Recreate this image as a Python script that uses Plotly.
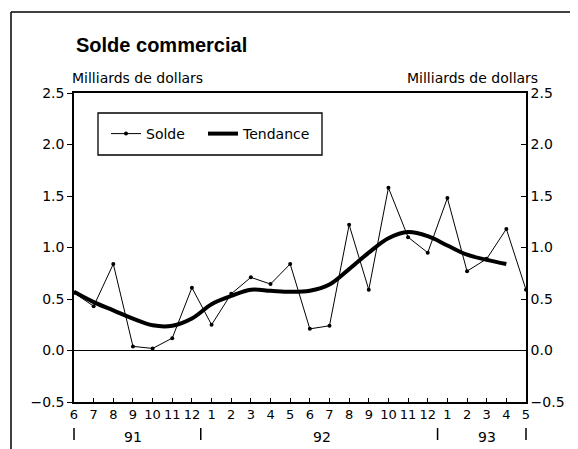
import plotly.graph_objects as go

months = ["6", "7", "8", "9", "10", "11", "12", "1", "2", "3", "4", "5",
          "6", "7", "8", "9", "10", "11", "12", "1", "2", "3", "4", "5"]
solde = [0.56, 0.43, 0.84, 0.04, 0.02, 0.12, 0.61, 0.25, 0.55, 0.71, 0.645, 0.84,
         0.21, 0.24, 1.22, 0.59, 1.58, 1.10, 0.95, 1.48, 0.77, 0.89, 1.18, 0.59]
tendance = [0.57, 0.47, 0.39, 0.31, 0.245, 0.24, 0.31, 0.45, 0.53, 0.59, 0.58, 0.57,
            0.58, 0.64, 0.79, 0.95, 1.09, 1.15, 1.11, 1.02, 0.93, 0.88, 0.84]
years = ["91", "92", "93"]
year_pos = [3, 12.6, 21]
year_marks = [0, 6.45, 18.5, 23]

x = list(range(len(months)))
xt = list(range(len(tendance)))
XMAX = len(months) - 1

FONT = "DejaVu Sans, Verdana, sans-serif"
TITLE_FONT = "Liberation Sans, Arial, Helvetica, sans-serif"

# Page has an 8px body margin: figure is 570x441 placed at (8, 8).
W, H = 570, 441
L, T, R, B = 66, 85, 52, 47


def px(xp):  # reference x pixel -> paper x
    return (xp - 74) / 452


def py(yp):  # reference y pixel -> paper y
    return (402 - yp) / 309


fig = go.Figure()
fig.add_trace(go.Scatter(x=x, y=solde, mode="lines+markers", name="Solde",
                         line=dict(color="black", width=1),
                         marker=dict(color="black", size=4),
                         cliponaxis=False))
fig.add_trace(go.Scatter(x=xt, y=tendance, mode="lines", name="Tendance",
                         line=dict(color="black", width=4, shape="spline", smoothing=1.0),
                         cliponaxis=False))
# invisible legend spacer so the last legend entry is not clipped
fig.add_trace(go.Scatter(x=[None], y=[None], mode="lines", name=" ",
                         line=dict(color="rgba(0,0,0,0)", width=0),
                         hoverinfo="skip"))
fig.add_trace(go.Scatter(x=[0], y=[0], yaxis="y2", mode="markers",
                         marker=dict(opacity=0), showlegend=False, hoverinfo="skip"))

fig.add_hline(y=0, line=dict(color="black", width=1.2))

fig.update_layout(
    width=W, height=H,
    margin=dict(l=L, r=R, t=T, b=B, autoexpand=False),
    paper_bgcolor="white", plot_bgcolor="white",
    font=dict(family=FONT, size=14, color="black"),
    showlegend=True,
    legend=dict(orientation="h", x=px(106), y=py(134), xanchor="left", yanchor="middle",
                borderwidth=0, bgcolor="rgba(0,0,0,0)",
                font=dict(size=14, color="black"), entrywidth=52, entrywidthmode="pixels",
                itemwidth=30),
    xaxis=dict(range=[0, XMAX], tickvals=x, ticktext=months, showgrid=False,
               zeroline=False, showline=True, linecolor="black", linewidth=1.5,
               mirror=True, ticks="inside", ticklen=4, tickcolor="black",
               tickangle=0, tickfont=dict(size=13)),
    yaxis=dict(range=[-0.5, 2.5], dtick=0.5, tick0=0, tickformat=".1f",
               showgrid=False, zeroline=False, showline=True, linecolor="black",
               linewidth=1.5, ticks="outside", ticklen=5, tickcolor="black",
               tickfont=dict(size=14)),
    yaxis2=dict(range=[-0.5, 2.5], dtick=0.5, tick0=0, tickformat=".1f",
                overlaying="y", side="right", showgrid=False, zeroline=False,
                showline=True, linecolor="black", linewidth=1.5, ticks="inside",
                ticklen=5, tickcolor="black", tickfont=dict(size=14)),
)

annotations = [
    dict(text="<b>Solde commercial</b>", xref="paper", yref="paper",
         x=px(74), y=py(45), xanchor="left", yanchor="middle",
         showarrow=False, font=dict(size=20, family=TITLE_FONT, color="black")),
    dict(text="Milliards de dollars", xref="paper", yref="paper",
         x=px(70), y=py(78), xanchor="left", yanchor="middle",
         showarrow=False, font=dict(size=14, color="black")),
    dict(text="Milliards de dollars", xref="paper", yref="paper",
         x=px(540), y=py(78), xanchor="right", yanchor="middle",
         showarrow=False, font=dict(size=14, color="black")),
]
for yl, yp in zip(years, year_pos):
    annotations.append(dict(text=yl, xref="x", yref="paper", x=yp,
                            y=py(437), xanchor="center", yanchor="middle",
                            showarrow=False, font=dict(size=14, color="black")))
fig.update_layout(annotations=annotations)

# year separators below the month labels
for xm in year_marks:
    fig.add_shape(type="line", xref="x domain", yref="paper",
                  x0=xm / XMAX, x1=xm / XMAX, y0=py(428), y1=py(440),
                  line=dict(color="black", width=1.5))

# legend frame
fig.add_shape(type="rect", xref="paper", yref="paper",
              x0=px(98), x1=px(322), y0=py(113), y1=py(155),
              line=dict(color="black", width=1.3), fillcolor="rgba(0,0,0,0)")
# outer frame (top and left edges)
fig.add_shape(type="line", xref="paper", yref="paper",
              x0=px(11), x1=px(580), y0=py(12), y1=py(12),
              line=dict(color="black", width=1.5))
fig.add_shape(type="line", xref="paper", yref="paper",
              x0=px(11), x1=px(11), y0=py(12), y1=py(449),
              line=dict(color="black", width=1.5))

fig.write_html("out.html")
